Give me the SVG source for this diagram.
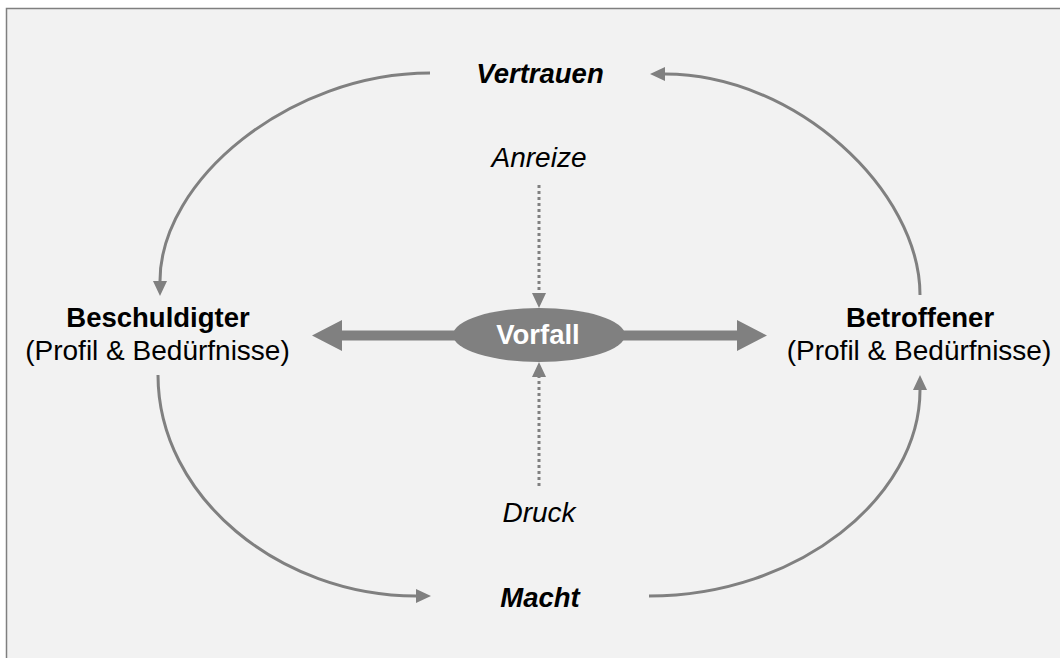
<svg xmlns="http://www.w3.org/2000/svg" width="1060" height="658" viewBox="0 0 1060 658">
  <style>
    .t { font-family: "Liberation Sans", Arial, sans-serif; font-size: 27.5px; fill: #000; text-anchor: middle; }
    .r { font-size: 28px; }
    .b { font-weight: bold; }
    .i { font-style: italic; }
    .curve { fill: none; stroke: #808080; stroke-width: 3; }
    .dot { fill: none; stroke: #808080; stroke-width: 3; stroke-dasharray: 3 3; }
  </style>
  <defs>
    <marker id="ah" markerUnits="userSpaceOnUse" markerWidth="16" markerHeight="16" refX="0" refY="7" orient="auto" viewBox="0 0 16 14">
      <path d="M0,0 L15,7 L0,14 Z" fill="#808080"/>
    </marker>
  </defs>
  <rect x="0" y="0" width="1060" height="658" fill="#ffffff"/>
  <rect x="6.5" y="8.5" width="1100" height="700" fill="#f2f2f2" stroke="#7f7f7f" stroke-width="1.5"/>

  <g id="connectors">
    <path class="curve" d="M430,73 C290,73 160,180 160,281" marker-end="url(#ah)"/>
    <path class="curve" d="M158,375 C158,497 280,596 416,596" marker-end="url(#ah)"/>
    <path class="curve" d="M649,596 C798,596 920,497 920,390" marker-end="url(#ah)"/>
    <path class="curve" d="M920,295 C920,190 795,74 665,74" marker-end="url(#ah)"/>
    <path class="dot" d="M539,185 L539,293" marker-end="url(#ah)"/>
    <path class="dot" d="M539,486 L539,377" marker-end="url(#ah)"/>
    <polygon points="312,335.5 342,320 342,330.5 737,330.5 737,320 767,335.5 737,351 737,340.5 342,340.5 342,351" fill="#808080"/>
  </g>

  <g id="vorfall">
    <ellipse cx="539" cy="335" rx="86" ry="27" fill="#808080"/>
    <text class="t b" x="538" y="344" style="fill:#ffffff">Vorfall</text>
  </g>
  <g id="vertrauen">
    <text class="t b i" x="540" y="83">Vertrauen</text>
  </g>
  <g id="anreize">
    <text class="t i r" x="539" y="167">Anreize</text>
  </g>
  <g id="druck">
    <text class="t i r" x="539" y="522">Druck</text>
  </g>
  <g id="macht">
    <text class="t b i" x="540" y="607">Macht</text>
  </g>
  <g id="beschuldigter">
    <text class="t b" x="158" y="327">Beschuldigter</text>
    <text class="t r" x="157.5" y="359.5">(Profil &amp; Bedürfnisse)</text>
  </g>
  <g id="betroffener">
    <text class="t b" x="920" y="327">Betroffener</text>
    <text class="t r" x="919" y="359.5">(Profil &amp; Bedürfnisse)</text>
  </g>
</svg>
